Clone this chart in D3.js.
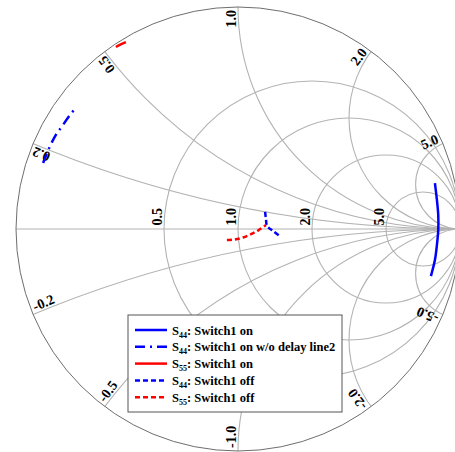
<!DOCTYPE html>
<html>
<head>
<meta charset="utf-8">
<script src="https://cdn.jsdelivr.net/npm/d3@7"></script>
<style>
  html, body { margin: 0; padding: 0; background: #fff; }
  svg { display: block; }
  .lbl { font-family: "Liberation Serif", "Times New Roman", serif; font-weight: bold; fill: #000; }
</style>
</head>
<body>
<svg id="chart" width="455" height="452"></svg>
<script>
// Smith chart grid values
const resistanceValues = [0.5, 1, 2, 5];
const reactanceValues = [0.2, 0.5, 1, 2, 5];
const resistanceLabels = ["0.5", "1.0", "2.0", "5.0"];
const reactanceLabelsPos = ["0.2", "0.5", "1.0", "2.0", "5.0"];
const reactanceLabelsNeg = ["-0.2", "-0.5", "-1.0", "-2.0", "-5.0"];

// Reflection coefficient traces (real / imaginary parts)
const s44OnRe = [0.887, 0.896, 0.902, 0.902, 0.896, 0.887, 0.869];
const s44OnIm = [0.207, 0.131, 0.063, -0.005, -0.072, -0.140, -0.212];

const s44NoDelayRe = [-0.878, -0.850, -0.821, -0.794, -0.760, -0.731];
const s44NoDelayIm = [0.297, 0.366, 0.423, 0.461, 0.509, 0.546];

const s55OnRe = [-0.550, -0.528, -0.505];
const s55OnIm = [0.820, 0.832, 0.842];

const s44OffRe = [0.122, 0.126, 0.131, 0.158, 0.194];
const s44OffIm = [0.077, 0.045, 0.014, -0.009, -0.036];

const s55OffRe = [-0.050, -0.014, 0.023, 0.059, 0.090, 0.126];
const s55OffIm = [-0.050, -0.047, -0.038, -0.023, -0.007, 0.018];

const seriesNames = [
  ["S", "44", ": Switch1 on"],
  ["S", "44", ": Switch1 on w/o delay line2"],
  ["S", "55", ": Switch1 on"],
  ["S", "44", ": Switch1 off"],
  ["S", "55", ": Switch1 off"]
];
const seriesColors = ["#0000ff", "#0000ff", "#ff0000", "#0000ff", "#ff0000"];
const seriesDashes = [null, "10,5,2,5", null, "5,3", "5,3"];

const seriesData = [
  d3.zip(s44OnRe, s44OnIm),
  d3.zip(s44NoDelayRe, s44NoDelayIm),
  d3.zip(s55OnRe, s55OnIm),
  d3.zip(s44OffRe, s44OffIm),
  d3.zip(s55OffRe, s55OffIm)
];

const svg = d3.select("#chart");
const cx = 238, cy = 229, R = 222;

const x = d3.scaleLinear().domain([-1, 1]).range([cx - R, cx + R]);
const y = d3.scaleLinear().domain([-1, 1]).range([cy + R, cy - R]);
const k = x(1) - x(0); // pixels per unit of reflection coefficient

svg.append("defs").append("clipPath").attr("id", "unit")
  .append("circle").attr("cx", x(0)).attr("cy", y(0)).attr("r", k);

const grid = svg.append("g").attr("clip-path", "url(#unit)")
  .attr("fill", "none").attr("stroke", "#b3b3b3").attr("stroke-width", 1.1);

// real axis
grid.append("line")
  .attr("x1", x(-1)).attr("x2", x(1)).attr("y1", y(0)).attr("y2", y(0));

// constant resistance circles
grid.selectAll("circle.r").data(resistanceValues).join("circle")
  .attr("class", "r")
  .attr("cx", r => x(r / (1 + r)))
  .attr("cy", y(0))
  .attr("r", r => k / (1 + r));

// constant reactance arcs (positive and negative)
const reactAll = reactanceValues.concat(reactanceValues.map(v => -v));
grid.selectAll("circle.x").data(reactAll).join("circle")
  .attr("class", "x")
  .attr("cx", x(1))
  .attr("cy", v => y(1 / v))
  .attr("r", v => k / Math.abs(v));

// outer boundary
svg.append("circle")
  .attr("cx", x(0)).attr("cy", y(0)).attr("r", k)
  .attr("fill", "none").attr("stroke", "#6e6e6e").attr("stroke-width", 1);

// resistance labels along the real axis
svg.selectAll("text.rl").data(resistanceValues).join("text")
  .attr("class", "lbl rl")
  .attr("font-size", 14)
  .attr("transform", r => `translate(${x((r - 1) / (r + 1)) - 2.5},${y(0) - 3.5}) rotate(-90)`)
  .text((r, i) => resistanceLabels[i]);

// reactance labels at the rim
function rimAngle(v) {
  // angle of the point where the reactance arc meets |Γ| = 1
  const gr = (v * v - 1) / (v * v + 1);
  const gi = 2 * v / (v * v + 1);
  return Math.atan2(gi, gr);
}
const rimLabels = reactanceValues.map((v, i) => ({ v, t: reactanceLabelsPos[i] }))
  .concat(reactanceValues.map((v, i) => ({ v: -v, t: reactanceLabelsNeg[i] })));

svg.selectAll("text.xl").data(rimLabels).join("text")
  .attr("class", "lbl xl")
  .attr("font-size", 14)
  .each(function (d) {
    const th = rimAngle(d.v);
    const px = x(Math.cos(th)), py = y(Math.sin(th));
    const deg = th * 180 / Math.PI;
    const sel = d3.select(this);
    if (d.v > 0) {
      sel.attr("transform", `translate(${px},${py}) rotate(${-deg})`)
        .attr("text-anchor", "end").attr("x", -3).attr("y", -2);
    } else {
      sel.attr("transform", `translate(${px},${py}) rotate(${-(deg + 180)})`)
        .attr("text-anchor", "start").attr("x", 3).attr("y", -2);
    }
  })
  .text(d => d.t);

// traces
const line = d3.line().x(d => x(d[0])).y(d => y(d[1])).curve(d3.curveCatmullRom);
svg.append("g").selectAll("path").data(seriesData).join("path")
  .attr("d", line)
  .attr("fill", "none")
  .attr("stroke", (d, i) => seriesColors[i])
  .attr("stroke-width", 2.5)
  .attr("stroke-dasharray", (d, i) => seriesDashes[i]);

// legend
const lg = svg.append("g").attr("transform", "translate(128,315)");
lg.append("rect").attr("width", 214).attr("height", 97)
  .attr("fill", "#fff").attr("stroke", "#555").attr("stroke-width", 1);
const rows = lg.selectAll("g").data(seriesNames).join("g")
  .attr("transform", (d, i) => `translate(0,${15 + i * 16.8})`);
rows.append("line").attr("x1", 7).attr("x2", 39).attr("y1", 0).attr("y2", 0)
  .attr("stroke", (d, i) => seriesColors[i]).attr("stroke-width", 2.5)
  .attr("stroke-dasharray", (d, i) => seriesDashes[i]);
const tx = rows.append("text").attr("class", "lbl").attr("font-size", 12.5)
  .attr("x", 44).attr("y", 4.5);
tx.append("tspan").text(d => d[0]);
tx.append("tspan").attr("font-size", 8).attr("dy", 3).text(d => d[1]);
tx.append("tspan").attr("dy", -3).text(d => d[2]);
</script>
</body>
</html>
